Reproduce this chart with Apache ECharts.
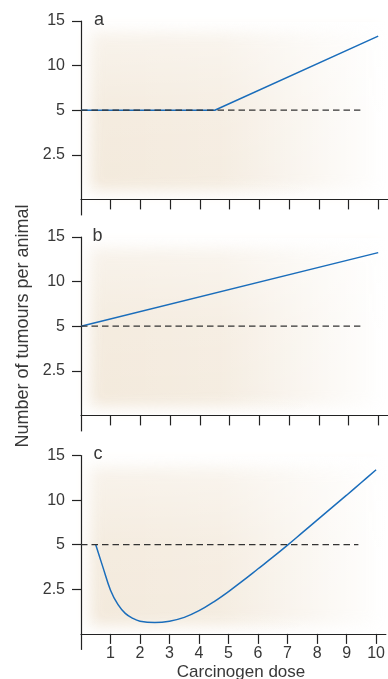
<!DOCTYPE html>
<html><head><meta charset="utf-8">
<script src="https://cdn.jsdelivr.net/npm/echarts@6/dist/echarts.min.js"></script>
<style>html,body{margin:0;padding:0;background:#fff}#c{width:388px;height:679px}</style>
</head><body><div id="c"></div>
<script>
// Data (y values in axis position units: 1=2.5, 2=5, 3=10, 4=15)
const xTicks = [1,2,3,4,5,6,7,8,9,10];
const yTickPos = [1,2,3,4];
const yTickLabels = ['2.5','5','10','15'];
const panelLetters = ['a','b','c'];
const baseline = [[0,2],[9.4,2]];
const seriesA = [[0,2],[4.5,2],[10,3.66]];
const seriesB = [[0,2],[10,3.65]];
const seriesC = [[0.5,2.0],[0.75,1.48],[1.0,0.98],[1.25,0.66],[1.5,0.46],[1.75,0.35],[2.0,0.285],[2.5,0.255],[3.0,0.285],[3.5,0.37],[4.0,0.52],[4.5,0.72],[5.0,0.95],[5.5,1.2],[6.0,1.46],[6.5,1.72],[7.0,1.99],[7.5,2.27],[8.0,2.55],[8.5,2.83],[9.0,3.11],[9.5,3.395],[10,3.68]];
const curves = [seriesA, seriesB, seriesC];

const FONT = '"Liberation Sans", Arial, sans-serif';
const tops = [21, 237, 455.5];
const H = 178.4;
const chart = echarts.init(document.getElementById('c'));

const grids = [], xAxes = [], yAxes = [], series = [], graphics = [];
tops.forEach((t, i) => {
  grids.push({left: 81, right: 0, top: t, height: H});
  xAxes.push({
    type: 'value', gridIndex: i, min: 0, max: 10.33,
    axisLine: {show: true, onZero: false, lineStyle: {color: '#222', width: 1.2}},
    axisTick: {show: true, length: 10, customValues: xTicks, lineStyle: {color: '#222', width: 1.2}},
    axisLabel: {show: i === 2, customValues: xTicks, margin: 12, fontSize: 16, color: '#383838', fontFamily: FONT},
    splitLine: {show: false}
  });
  yAxes.push({
    type: 'value', gridIndex: i, min: 0, max: 4,
    axisLine: {show: true, onZero: false, lineStyle: {color: '#222', width: 1.2}},
    axisTick: {show: true, length: 9, customValues: yTickPos, lineStyle: {color: '#222', width: 1.2}},
    axisLabel: {customValues: yTickPos, margin: 16, fontSize: 16, color: '#383838', fontFamily: FONT,
      formatter: v => yTickLabels[yTickPos.indexOf(v)]},
    splitLine: {show: false}
  });
  series.push({
    type: 'line', xAxisIndex: i, yAxisIndex: i, data: curves[i], showSymbol: false, symbol: 'none',
    smooth: i === 2 ? 0.4 : false, lineStyle: {color: '#1a6dbb', width: 1.5}, z: 3, silent: true
  });
  series.push({
    type: 'line', xAxisIndex: i, yAxisIndex: i, data: baseline, showSymbol: false, symbol: 'none',
    lineStyle: {color: '#333', width: 1.3, type: [6.5, 4]}, z: 4, silent: true
  });
  // y-axis line extension below the x axis
  graphics.push({
    type: 'line', z: 5, silent: true,
    shape: {x1: 81.5, y1: t + H, x2: 81.5, y2: t + H + 16},
    style: {stroke: '#222', lineWidth: 1.2}
  });
  // soft beige background
  const bx = 90, by = t + 10, bw = 290, bh = 160;
  graphics.push({
    type: 'rect', z: -10, silent: true,
    shape: {x: bx + 2000, y: by, width: bw, height: bh},
    style: {fill: '#f3e9db', shadowBlur: 14, shadowColor: 'rgba(243,233,219,1)', shadowOffsetX: -2000}
  });
  graphics.push({
    type: 'rect', z: -9, silent: true,
    shape: {x: 82, y: t + 1, width: 306, height: H - 1},
    style: {fill: new echarts.graphic.LinearGradient(0, 0, 1, 0, [
      {offset: 0, color: 'rgba(255,255,255,0)'},
      {offset: 0.45, color: 'rgba(255,255,255,0.15)'},
      {offset: 0.8, color: 'rgba(255,255,255,0.7)'},
      {offset: 1, color: 'rgba(255,255,255,1)'}])}
  });
  graphics.push({
    type: 'rect', z: -9, silent: true,
    shape: {x: 82, y: t + 1, width: 306, height: H - 1},
    style: {fill: new echarts.graphic.LinearGradient(0, 0, 0, 1, [
      {offset: 0, color: 'rgba(255,255,255,0.5)'},
      {offset: 0.5, color: 'rgba(255,255,255,0.1)'},
      {offset: 1, color: 'rgba(255,255,255,0)'}])}
  });
  graphics.push({
    type: 'text', z: 10, silent: true, x: [94, 92.5, 93.5][i], y: t - 1,
    style: {text: panelLetters[i], fontSize: 18, fill: '#383838', fontFamily: FONT, verticalAlign: 'middle'}
  });
});
graphics.push({
  type: 'text', z: 10, silent: true, x: 23, y: 326, rotation: Math.PI / 2,
  style: {text: 'Number of tumours per animal', fontSize: 18, fill: '#383838', fontFamily: FONT, align: 'center', verticalAlign: 'middle'}
});
graphics.push({
  type: 'text', z: 10, silent: true, x: 241, y: 672,
  style: {text: 'Carcinogen dose', fontSize: 17, fill: '#383838', fontFamily: FONT, align: 'center', verticalAlign: 'middle'}
});

chart.setOption({
  animation: false,
  grid: grids, xAxis: xAxes, yAxis: yAxes, series: series, graphic: graphics
});
</script></body></html>
